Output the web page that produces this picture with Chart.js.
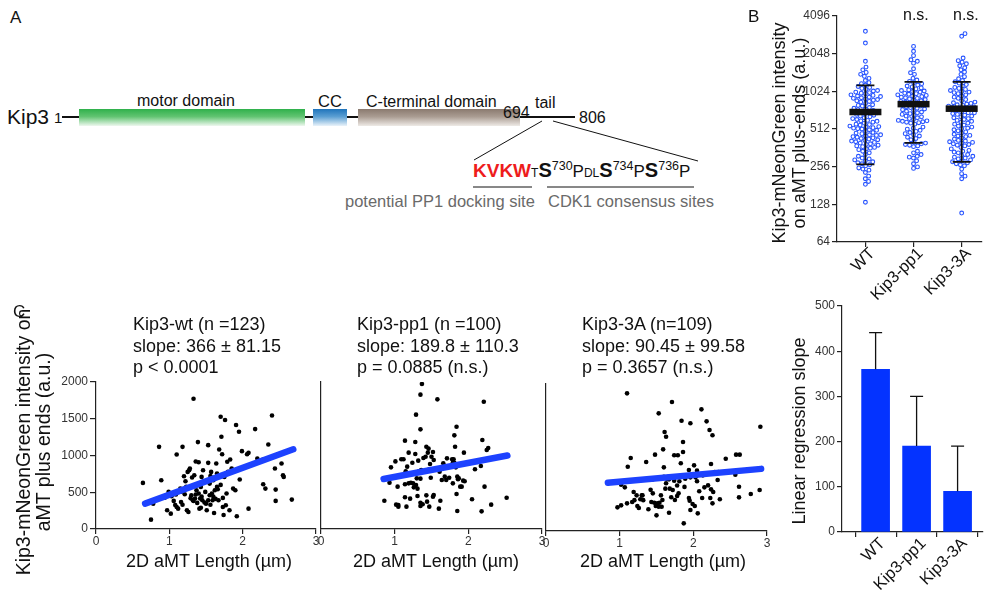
<!DOCTYPE html>
<html>
<head>
<meta charset="utf-8">
<script src="https://cdn.jsdelivr.net/npm/chart.js@4.4.0/dist/chart.umd.min.js"></script>
<style>
body { margin: 0; background: #fff; font-family: "Liberation Sans", Arial, sans-serif; }
#fig { position: relative; width: 987px; height: 599px; overflow: hidden; }
.t { position: absolute; white-space: nowrap; color: #111; }
.box { position: absolute; top: 109px; height: 17px; }
.ln { position: absolute; height: 2px; background: #111; }
canvas { position: absolute; }
.rot { position: absolute; white-space: nowrap; text-align: center; transform: translate(-50%, -50%) rotate(-90deg); color: #111; }
sup { font-size: 12.5px; vertical-align: 7px; font-weight: normal; }
</style>
</head>
<body>
<div id="fig">
  <!-- panel A: domain diagram -->
  <div class="t" style="left:10px;top:8px;font-size:17px;">A</div>
  <div class="t" style="left:7px;top:105px;font-size:21px;">Kip3</div>
  <div class="t" style="left:54px;top:109px;font-size:15px;">1</div>
  <div class="ln" style="left:62px;top:116px;width:17px;"></div>
  <div class="ln" style="left:305px;top:116px;width:8px;"></div>
  <div class="ln" style="left:347px;top:116px;width:11px;"></div>
  <div class="ln" style="left:520px;top:116px;width:55px;"></div>
  <div class="box" style="left:79px;width:226px;background:linear-gradient(#2fb14b,#62c472 45%,#eef8ef);"></div>
  <div class="box" style="left:313px;width:34px;background:linear-gradient(#1f74bb,#5b9fd3 45%,#eaf3fa);"></div>
  <div class="box" style="left:358px;width:162px;background:linear-gradient(#8a7a6f,#aa9c92 45%,#eeeae6);"></div>
  <div class="t" style="left:137px;top:92px;font-size:16px;">motor domain</div>
  <div class="t" style="left:318px;top:92px;font-size:16.5px;">CC</div>
  <div class="t" style="left:366px;top:93px;font-size:16px;">C-terminal domain</div>
  <div class="t" style="left:503px;top:104px;font-size:16px;">694</div>
  <div class="t" style="left:535px;top:94px;font-size:16px;">tail</div>
  <div class="t" style="left:579px;top:109px;font-size:16px;">806</div>
  <svg style="position:absolute;left:0;top:0;" width="760" height="220">
    <line x1="542" y1="121" x2="474" y2="160" stroke="#111" stroke-width="1"/>
    <line x1="553" y1="121" x2="698" y2="161" stroke="#111" stroke-width="1"/>
    <line x1="473" y1="187" x2="532" y2="187" stroke="#111" stroke-width="1"/>
    <line x1="547" y1="187" x2="694" y2="187" stroke="#111" stroke-width="1"/>
  </svg>
  <div class="t" style="left:473px;top:152px;font-size:17px;line-height:28px;">
    <span style="color:#ee1c1c;font-weight:bold;font-size:19px;">KVKW</span><span style="font-size:12px;">T</span><b style="font-size:20px;">S</b><sup>730</sup>P<span style="font-size:12px;">DL</span><b style="font-size:20px;">S</b><sup>734</sup>P<b style="font-size:20px;">S</b><sup>736</sup>P
  </div>
  <div class="t" style="left:345px;top:192px;font-size:16.5px;color:#6a6a6a;">potential PP1 docking site</div>
  <div class="t" style="left:548px;top:192px;font-size:16.5px;color:#6a6a6a;">CDK1 consensus sites</div>

  <!-- charts -->
  <canvas id="chartD" width="207" height="309" style="left:780px;top:290px;"></canvas>
  <canvas id="chartB" width="247" height="310" style="left:740px;top:0px;"></canvas>
  <canvas id="chartC1" width="320" height="260" style="left:0px;top:300px;"></canvas>
  <canvas id="chartC2" width="250" height="260" style="left:300px;top:300px;"></canvas>
  <canvas id="chartC3" width="250" height="260" style="left:530px;top:302px;"></canvas>

  <!-- panel B text -->
  <div class="t" style="left:748px;top:7px;font-size:17px;">B</div>
  <div class="t" style="left:903px;top:6px;font-size:16px;">n.s.</div>
  <div class="t" style="left:953px;top:6px;font-size:16px;">n.s.</div>
  <div class="rot" style="left:789px;top:133px;font-size:18px;line-height:20px;">Kip3-mNeonGreen intensity<br>on aMT plus-ends (a.u.)</div>

  <!-- panel C text -->
  <div class="t" style="left:13px;top:302px;font-size:17px;">C</div>
  <div class="rot" style="left:33px;top:442px;font-size:19.5px;line-height:20px;">Kip3-mNeonGreen intensity on<br>aMT plus ends (a.u.)</div>
  <div class="t" id="titleC1" style="left:133px;top:314px;font-size:18px;line-height:21.5px;"></div>
  <div class="t" id="titleC2" style="left:357px;top:314px;font-size:18px;line-height:21.5px;"></div>
  <div class="t" id="titleC3" style="left:582px;top:314px;font-size:18px;line-height:21.5px;"></div>
  <div class="t" style="left:209px;top:551px;font-size:18px;transform:translateX(-50%);">2D aMT Length (µm)</div>
  <div class="t" style="left:436px;top:551px;font-size:18px;transform:translateX(-50%);">2D aMT Length (µm)</div>
  <div class="t" style="left:663px;top:551px;font-size:18px;transform:translateX(-50%);">2D aMT Length (µm)</div>

  <!-- panel D text -->
  <div class="rot" style="left:799px;top:431px;font-size:18px;">Linear regression slope</div>
</div>

<script>
// ---- data ----
var groups = ['WT', 'Kip3-pp1', 'Kip3-3A'];
var nCells = [123, 100, 109];

// panel B: intensity per aMT plus-end (a.u.)
var bWT = [3090, 2490, 1780, 1600, 1520, 1450, 1400, 1350, 1300, 1250, 1200,
  1180, 1150, 1120, 1100, 1080, 1060, 1040, 1030,
  1010, 1000, 990, 980, 960, 950, 940, 930, 920, 910, 900, 890, 880, 870, 860,
  850, 840, 820, 800, 790, 780, 760, 750, 740, 730, 720, 710,
  700, 690, 680, 670, 660, 650, 640, 630, 620, 610, 600, 595, 590, 580, 570, 560, 555, 550, 540, 535, 530, 525, 520, 515, 512,
  505, 500, 490, 480, 475, 470, 460, 460, 455, 450, 445, 440, 435, 430, 425, 420, 415, 410, 405, 400, 395, 390, 385, 380, 375, 370, 365, 360, 355,
  350, 340, 330, 320, 310, 300, 295, 290, 285, 280, 275, 270, 265, 260,
  250, 245, 240, 230, 215, 205, 195, 185, 133];
var bPP1 = [2340, 2140, 1975, 1830, 1780, 1720, 1550, 1440, 1400, 1300, 1260, 1230,
  1200, 1180, 1150, 1130, 1110, 1090, 1070, 1050, 1040, 1030, 1020, 1010,
  990, 980, 970, 960, 950, 940, 930, 920, 910, 900, 890, 880, 870, 860, 850,
  840, 830, 820, 810, 800, 790, 780, 770, 760, 750, 740, 730, 720, 710,
  700, 690, 680, 670, 660, 650, 640, 630, 620, 610, 600, 595, 590, 585, 580, 575, 570, 560,
  530, 520, 510, 500, 490, 480, 470, 460, 450, 440, 430, 420,
  400, 395, 390, 385, 380, 375, 370,
  340, 330, 320, 310, 305, 300,
  285, 270, 255, 248];
var b3A = [2960, 2820, 1890, 1800, 1750, 1700, 1640, 1580, 1520, 1460, 1400, 1340, 1290, 1250, 1220,
  1190, 1160, 1130, 1100, 1080, 1060, 1040, 1020, 1010, 1000, 980, 960, 940, 920, 900, 880,
  860, 840, 830, 820, 810, 800, 790, 780, 770, 760, 750, 740, 730, 720,
  700, 690, 690, 680, 670, 660, 650, 640, 630, 620, 610, 600, 590, 580, 570, 560, 550, 540, 530, 520, 515,
  505, 495, 485, 475, 465, 455, 450, 445, 435, 425, 415, 410, 405, 400, 395, 390, 385, 380, 375,
  365, 355, 345, 340, 335, 330, 320, 315, 310, 305, 300, 295, 290, 285,
  280, 275, 270, 265, 260,
  245, 225, 215, 205, 109];
var bMean = [700, 809, 744];
var bLow = [267, 396, 280];
var bHigh = [1144, 1217, 1217];
var bTicks = [64, 128, 256, 512, 1024, 2048, 4096];

// panel C: aMT length (um) vs intensity (a.u.)
var wtLen = [0.64, 0.75, 0.78, 0.86, 0.89, 0.94, 0.97, 0.99, 1.02, 1.03, 1.05, 1.06, 1.08, 1.10, 1.10, 1.12, 1.15, 1.16, 1.17, 1.18,
  1.20, 1.21, 1.23, 1.24, 1.25, 1.26, 1.27, 1.28, 1.30, 1.32, 1.33, 1.34, 1.35, 1.36, 1.37, 1.38, 1.39, 1.40, 1.40, 1.41,
  1.42, 1.43, 1.44, 1.45, 1.46, 1.49, 1.50, 1.51, 1.53, 1.53, 1.55, 1.55, 1.57, 1.58, 1.59, 1.60, 1.61, 1.62, 1.64, 1.65,
  1.65, 1.67, 1.68, 1.69, 1.70, 1.71, 1.72, 1.73, 1.74, 1.75, 1.76, 1.77, 1.78, 1.79, 1.80, 1.82, 1.83, 1.85, 1.87, 1.90,
  1.91, 1.92, 1.95, 1.96, 1.99, 2.08, 2.06, 2.08, 2.17, 2.20, 2.28, 2.28, 2.31, 2.35, 2.40, 2.44, 2.45, 2.45, 2.53, 2.55,
  2.56, 2.67, 1.22, 1.29, 1.33, 1.36, 1.44, 1.48, 1.53, 1.56, 1.60, 1.63, 1.66, 1.70, 1.47, 1.38, 1.26, 1.18, 1.09, 1.73,
  1.31, 1.56, 1.43];
var wtInt = [627, 127, 345, 1118, 664, 427, 255, 505, 209, 445, 482, 382, 327, 1014, 300, 277, 550, 368, 509, 1118,
  718, 473, 573, 255, 777, 232, 800, 823, 459, 391, 1773, 732, 414, 918, 527, 355, 1182, 909, 482, 277,
  414, 573, 709, 391, 800, 505, 345, 255, 1141, 900, 459, 618, 777, 482, 391, 664, 218, 527, 891, 755,
  573, 391, 1082, 727, 1527, 1255, 1018, 423, 191, 709, 1482, 323, 482, 914, 777, 255, 945, 823, 550, 527,
  1414, 173, 1323, 673, 1059, 277, 1018, 1036, 1359, 959, 945, 609, 550, 1150, 1545, 823, 382, 536, 891, 732,
  709, 400, 650, 420, 380, 470, 440, 360, 390, 330, 440, 410, 540, 600, 650, 600, 560, 330, 470, 300,
  700, 720, 290];
var pp1Len = [0.86, 0.86, 0.93, 0.95, 1.01, 1.02, 1.04, 1.05, 1.05, 1.09, 1.12, 1.14, 1.14, 1.15, 1.14, 1.16, 1.17, 1.19, 1.21, 1.22,
  1.24, 1.25, 1.26, 1.28, 1.28, 1.29, 1.30, 1.31, 1.31, 1.32, 1.33, 1.35, 1.35, 1.35, 1.35, 1.36, 1.37, 1.38, 1.39, 1.42,
  1.43, 1.43, 1.44, 1.45, 1.46, 1.47, 1.47, 1.48, 1.49, 1.50, 1.52, 1.52, 1.53, 1.53, 1.58, 1.60, 1.61, 1.62, 1.60, 1.64,
  1.66, 1.68, 1.69, 1.70, 1.71, 1.73, 1.74, 1.78, 1.79, 1.79, 1.80, 1.81, 1.81, 1.82, 1.83, 1.84, 1.84, 1.85, 1.86, 1.85,
  1.87, 1.89, 1.91, 1.93, 1.94, 1.95, 2.05, 2.09, 2.17, 2.18, 2.19, 2.21, 2.22, 2.25, 2.27, 2.31, 2.52, 1.35, 1.19, 1.29];
var pp1Int = [680, 385, 630, 839, 920, 331, 576, 304, 327, 948, 948, 1202, 608, 785, 431, 304, 848, 1039, 413, 630,
  902, 621, 567, 1184, 1020, 1556, 689, 549, 449, 930, 785, 358, 313, 1356, 1828, 803, 1973, 336, 966, 984,
  1120, 458, 372, 1039, 1093, 304, 812, 884, 698, 984, 440, 1048, 939, 463, 1764, 803, 780, 385, 277, 667,
  893, 712, 848, 667, 961, 848, 698, 948, 621, 902, 948, 902, 1274, 1120, 839, 1392, 476, 712, 676, 245,
  689, 576, 576, 658, 1039, 649, 404, 812, 857, 240, 1211, 1732, 576, 1075, 1102, 331, 426, 685, 621, 599];
var a3Len = [0.97, 1.02, 1.02, 1.07, 1.10, 1.11, 1.15, 1.10, 1.17, 1.19, 1.23, 1.24, 1.24, 1.26, 1.28, 1.30, 1.31, 1.36, 1.39, 1.43,
  1.45, 1.45, 1.47, 1.48, 1.49, 1.50, 1.51, 1.53, 1.53, 1.54, 1.56, 1.58, 1.59, 1.60, 1.60, 1.61, 1.62, 1.63, 1.63, 1.64,
  1.66, 1.67, 1.67, 1.68, 1.71, 1.72, 1.74, 1.74, 1.75, 1.78, 1.79, 1.80, 1.81, 1.83, 1.84, 1.86, 1.86, 1.87, 1.89, 1.94,
  1.94, 1.95, 1.96, 1.96, 1.96, 1.99, 2.01, 2.02, 2.03, 2.05, 2.05, 2.05, 2.06, 2.06, 2.11, 2.13, 2.15, 2.17, 2.18, 2.20,
  2.22, 2.23, 2.24, 2.24, 2.26, 2.26, 2.27, 2.29, 2.33, 2.34, 2.36, 2.44, 2.57, 2.58, 2.62, 2.63, 2.62, 2.78, 2.90, 2.91,
  1.42, 1.70, 1.88, 1.32, 2.08, 1.57, 1.78, 2.12, 1.20];
var a3Int = [322, 349, 630, 594, 376, 875, 993, 1873, 395, 531, 485, 703, 340, 313, 431, 485, 485, 939, 295, 395,
  703, 512, 385, 1039, 340, 213, 376, 1601, 331, 385, 485, 422, 1111, 739, 866, 1347, 576, 1283, 649, 712,
  739, 703, 249, 576, 1755, 558, 1030, 685, 422, 476, 1030, 512, 676, 921, 1501, 1211, 1075, 104, 712, 449,
  830, 413, 730, 1465, 286, 367, 893, 340, 730, 821, 757, 676, 240, 775, 1655, 757, 594, 775, 1492, 621,
  1374, 449, 911, 567, 376, 1302, 531, 803, 694, 803, 431, 984, 766, 1039, 603, 1039, 458, 503, 558, 1419,
  560, 460, 600, 420, 540, 330, 620, 450, 420];
var slopes = [366, 189.8, 90.45];
var slopeErr = [81.15, 110.3, 99.58];
var intercepts = [100, 519, 581];
var fitRange = [[0.67, 2.69], [0.85, 2.53], [0.84, 2.92]];
var pValues = ['p < 0.0001', 'p = 0.0885 (n.s.)', 'p = 0.3657 (n.s.)'];
var cTitles = ['Kip3-wt (n =123)', 'Kip3-pp1 (n =100)', 'Kip3-3A (n=109)'];

// panel D: slope bars as drawn
var dSlope = [360, 190, 90];
var dErr = [81, 110, 100];

Chart.defaults.font.family = '"Liberation Sans", Arial, sans-serif';
Chart.defaults.color = '#333';
Chart.defaults.animation = false;
Chart.defaults.plugins.legend.display = false;
Chart.defaults.plugins.tooltip.enabled = false;

var BLUE = '#0433ff';

// error bars / mean bars drawn through the chart scales
var errorBars = {
  id: 'errorBars',
  afterDatasetsDraw: function(chart, args, opts) {
    var ctx = chart.ctx, x = chart.scales.x, y = chart.scales.y;
    ctx.save();
    ctx.strokeStyle = '#111';
    ctx.fillStyle = '#111';
    ctx.lineWidth = opts.lineWidth;
    opts.items.forEach(function(it) {
      var px = x.getPixelForValue(it.x);
      var top = y.getPixelForValue(it.hi), bot = y.getPixelForValue(it.lo);
      ctx.beginPath();
      ctx.moveTo(px, bot); ctx.lineTo(px, top);
      ctx.moveTo(px - opts.cap / 2, top); ctx.lineTo(px + opts.cap / 2, top);
      if (opts.lowCap) { ctx.moveTo(px - opts.cap / 2, bot); ctx.lineTo(px + opts.cap / 2, bot); }
      ctx.stroke();
      if (it.mean !== undefined) {
        var py = y.getPixelForValue(it.mean);
        ctx.fillRect(px - opts.meanW / 2, py - opts.meanH / 2, opts.meanW, opts.meanH);
      }
    });
    ctx.restore();
  }
};

function fixW(w) { return function(s) { s.width = w; }; }
function fixH(h) { return function(s) { s.height = h; }; }
function plain(v) { return String(v); }
var axisGrid = { drawOnChartArea: false, drawTicks: true, tickLength: 5, color: '#222', lineWidth: 1.2 };
var axisBorder = { display: true, color: '#222', width: 1.2 };
var catTicks = { minRotation: 45, maxRotation: 45, padding: -3, labelOffset: 7, color: '#111', font: { size: 16.5 },
  callback: function(v) { return groups[v]; } };

// ---- panel B: beeswarm on log2 axis ----
function swarm(values, gi) {
  var pxOct = 37.67, pxUnit = 49.2, d = 4.3;
  var pts = values.map(function(v) { return { v: v, py: Math.log2(v) * pxOct }; });
  pts.sort(function(a, b) { return a.py - b.py; });
  var placed = [];
  pts.forEach(function(p) {
    var near = placed.filter(function(q) { return Math.abs(q.py - p.py) < d; });
    var cands = [0];
    near.forEach(function(q) {
      var dx = Math.sqrt(d * d - (q.py - p.py) * (q.py - p.py));
      cands.push(q.px + dx, q.px - dx);
    });
    cands.sort(function(a, b) { return Math.abs(a) - Math.abs(b); });
    p.px = cands.find(function(c) {
      return near.every(function(q) { return (q.px - c) * (q.px - c) + (q.py - p.py) * (q.py - p.py) >= d * d - 0.01; });
    });
    placed.push(p);
  });
  return pts.map(function(p) { return { x: gi + p.px / pxUnit, y: p.v }; });
}

new Chart(document.getElementById('chartB'), {
  type: 'scatter',
  data: {
    datasets: [bWT, bPP1, b3A].map(function(vals, i) {
      return {
        data: swarm(vals, i),
        pointRadius: 1.9, pointBorderWidth: 1.1,
        pointBorderColor: '#2653ff', pointBackgroundColor: 'rgba(255,255,255,0.85)'
      };
    })
  },
  options: {
    responsive: false,
    layout: { padding: { left: 0, right: 2, top: 16, bottom: 0 } },
    scales: {
      x: {
        type: 'linear', min: -0.59, max: 2.42,
        afterFit: fixH(68),
        afterBuildTicks: function(s) { s.ticks = groups.map(function(g, i) { return { value: i }; }); },
        grid: axisGrid, border: axisBorder,
        ticks: catTicks
      },
      y: {
        type: 'logarithmic', min: 64, max: 4096,
        afterFit: fixW(97),
        afterBuildTicks: function(s) { s.ticks = bTicks.map(function(v) { return { value: v }; }); },
        grid: axisGrid, border: axisBorder,
        ticks: { padding: 2, font: { size: 12 }, callback: plain }
      }
    },
    plugins: {
      errorBars: {
        lineWidth: 1.8, cap: 18, lowCap: true, meanW: 32, meanH: 6.5,
        items: groups.map(function(g, i) { return { x: i, lo: bLow[i], hi: bHigh[i], mean: bMean[i] }; })
      }
    }
  },
  plugins: [errorBars]
});

// ---- panel C: scatter + regression line ----
function scatterC(id, k, lens, ints, yW, padR, showY) {
  var pts = lens.map(function(l, i) { return { x: l, y: ints[i] }; });
  var fit = fitRange[k].map(function(l) { return { x: l, y: intercepts[k] + slopes[k] * l }; });
  document.getElementById('titleC' + (k + 1)).innerHTML =
    cTitles[k] + '<br>slope: ' + slopes[k] + ' \u00b1 ' + slopeErr[k] + '<br>' + pValues[k];
  new Chart(document.getElementById(id), {
    type: 'scatter',
    data: {
      datasets: [
        { data: fit, showLine: true, borderColor: '#1d42ff', borderWidth: 6.5, borderCapStyle: 'round', pointRadius: 0 },
        { data: pts, pointRadius: 2.3, pointBackgroundColor: '#000', pointBorderWidth: 0 }
      ]
    },
    options: {
      responsive: false,
      layout: { padding: { left: 0, right: padR, top: 82, bottom: 11 } },
      scales: {
        x: {
          min: 0, max: 3, afterFit: fixH(20),
          grid: axisGrid, border: axisBorder,
          ticks: { stepSize: 1, padding: 0, font: { size: 12 }, maxRotation: 0, callback: plain }
        },
        y: {
          min: 0, max: 2000, afterFit: fixW(yW),
          grid: { drawOnChartArea: false, drawTicks: showY, tickLength: 6, color: '#222', lineWidth: 1.2 },
          border: axisBorder,
          ticks: { display: showY, stepSize: 500, padding: 2, font: { size: 12 }, callback: plain }
        }
      }
    }
  });
}
scatterC('chartC1', 0, wtLen, wtInt, 96, 4, true);
scatterC('chartC2', 1, pp1Len, pp1Int, 21, 8, false);
scatterC('chartC3', 2, a3Len, a3Int, 16, 13, false);

// ---- panel D: regression slopes ----
new Chart(document.getElementById('chartD'), {
  type: 'bar',
  data: {
    datasets: [{
      data: dSlope.map(function(v, i) { return { x: i, y: v }; }),
      backgroundColor: BLUE, barThickness: 28
    }]
  },
  options: {
    responsive: false,
    layout: { padding: { left: 0, right: 4, top: 16, bottom: 0 } },
    scales: {
      x: {
        type: 'linear', min: -0.82, max: 2.62, offset: false,
        afterFit: fixH(67),
        afterBuildTicks: function(s) { s.ticks = groups.map(function(g, i) { return { value: i }; }); },
        grid: axisGrid, border: axisBorder,
        ticks: catTicks
      },
      y: {
        min: 0, max: 500, afterFit: fixW(62),
        grid: axisGrid, border: axisBorder,
        ticks: { stepSize: 100, padding: 2, font: { size: 12 }, callback: plain }
      }
    },
    plugins: {
      errorBars: {
        lineWidth: 1.3, cap: 13, lowCap: false,
        items: dSlope.map(function(v, i) { return { x: i, lo: v, hi: v + dErr[i] }; })
      }
    }
  },
  plugins: [errorBars]
});
</script>
</body>
</html>
